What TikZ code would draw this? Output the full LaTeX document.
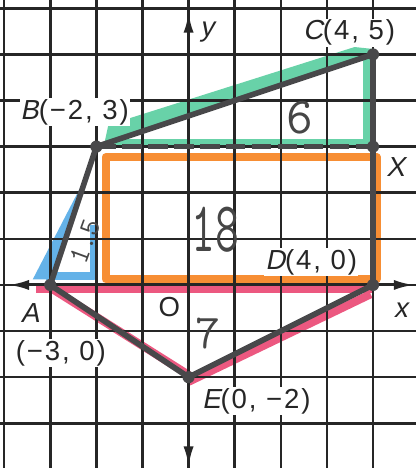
\documentclass[tikz,border=0pt]{standalone}
\usepackage{fontspec}
\setmainfont{Liberation Sans}
\newfontfamily\lblfont[LetterSpace=7]{Liberation Sans}
\newfontfamily\ptfont[LetterSpace=7,FakeSlant=0.2]{Liberation Sans}
\usetikzlibrary{arrows.meta,positioning,calc}
\definecolor{gdgrid}{RGB}{38,38,38}
\definecolor{gdpen}{RGB}{72,72,74}
\definecolor{gdpencil}{RGB}{70,70,70}
\definecolor{gdgreen}{RGB}{104,210,168}
\definecolor{gdorange}{RGB}{247,142,52}
\definecolor{gdblue}{RGB}{100,178,232}
\definecolor{gdpink}{RGB}{236,88,128}
\newcommand{\pt}[1]{{\ptfont #1}}
\tikzset{
    gridline/.style={
        draw=gdgrid,line width=1.6pt
    },
    axis/.style={
        draw=gdgrid,line width=1.9pt,
        {Latex[length=4.5mm,width=2.2mm]}-{Latex[length=4.5mm,width=2.2mm]}
    },
    marker/.style={
        draw=#1,line width=5pt,line join=round
    },
    pen/.style={
        draw=gdpen,line width=3.5pt,line cap=round,line join=round
    },
    dot/.style={
        circle,fill=gdpen,inner sep=0pt,minimum size=7.5pt
    },
    lbl/.style={
        font=\lblfont\fontsize{17}{19}\selectfont,text=gdgrid,
        fill=white,inner sep=0.6pt
    },
    hand/.style={
        font=\ttfamily\fontsize{#1}{#1}\selectfont,text=gdpencil
    }
}

\begin{document}
\begin{tikzpicture}
\useasboundingbox (-4.09,-3.97) rectangle (4.94,6.18);

\coordinate (O) at (0,0);
\coordinate (A) at (-3,0);
\coordinate (B) at (-2,3);
\coordinate (C) at (4,5);
\coordinate (X) at (4,3);
\coordinate (D) at (4,0);
\coordinate (E) at (0,-2);
\coordinate (xl) at (-3.91,0);
\coordinate (xr) at (4.9,0);
\coordinate (yb) at (0,-3.95);
\coordinate (yt) at (0,5.92);

% highlighter marks
\fill[gdgreen] (-1.82,3.10) -- (-1.74,3.47) -- (3.6,5.16) -- (3.98,5.12)
    -- (3.98,4.95) -- cycle;
\draw[marker=gdgreen,line width=4pt] (-1.65,3.1) -- (3.86,3.1) -- (3.86,4.95);
\fill[gdblue] (-3.38,0.12) -- (-2.2,2.4) -- (-2.95,0.12) -- cycle;
\draw[marker=gdblue] (-3.1,0.19) -- (-2.05,0.19) -- (-2.05,1.3);
\draw[marker=gdorange] (-1.8,0.12) rectangle (4.08,2.77);
\draw[marker=gdpink,line width=4pt] (-3.3,-0.1) -- (4,-0.1);
\draw[marker=gdpink] (-3,-0.06) -- (0,-1.95);
\draw[marker=gdpink] (0,-2.1) -- (3.95,-0.2);

% grid and axes
\draw[gridline] (-4.09,-3.97) grid (4.94,6.18);
\draw[axis] (xl) -- (xr);
\draw[axis] (yb) -- (yt);

\node[lbl] (Blbl) at (-2.47,3.75) {\pt{B}(−2, 3)};
\node[lbl] (Clbl) at (3.48,5.47) {\pt{C}(4, 5)};
\node[lbl] (Xlbl) at (4.49,2.56) {\pt{X}};
\node[lbl] (Dlbl) at (2.66,0.5) {\pt{D}(4, 0)};
\node[lbl] (Elbl) at (1.47,-2.52) {\pt{E}(0, −2)};
\node[lbl] (Albl) at (-3.44,-0.61) {\pt{A}};
\node[lbl] (Acrd) at (-2.77,-1.48) {(−3, 0)};
\node[lbl] (Olbl) at (-0.42,-0.48) {O};
\node[lbl] (xlbl) at (4.6,-0.54) {\pt{x}};
\node[lbl] (ylbl) at (0.4,5.49) {\pt{y}};

\draw[pen] (A) -- (B) -- (C) -- (D);
\draw[pen,line cap=butt,dash pattern=on 12pt off 4pt] (B) -- (X);
\draw[pen] (A) -- (E) -- (D);

\node[dot] (dA) at (A) {};
\node[dot] (dB) at (B) {};
\node[dot] (dC) at (C) {};
\node[dot] (dX) at (X) {};
\node[dot] (dD) at (D) {};
\node[dot] (dE) at (E) {};

\node[hand=44] (area18) at (0.59,1.19) {\scalebox{0.65}[1]{18}};
\node[hand=32] (area6) at (2.42,3.62) {6};
\node[hand=30] (area7) at (0.42,-1.06) {7};
\node[hand=18,rotate=70,inner sep=0pt] (area15) at (-2.25,0.95) {1.5};

\end{tikzpicture}
\end{document}
